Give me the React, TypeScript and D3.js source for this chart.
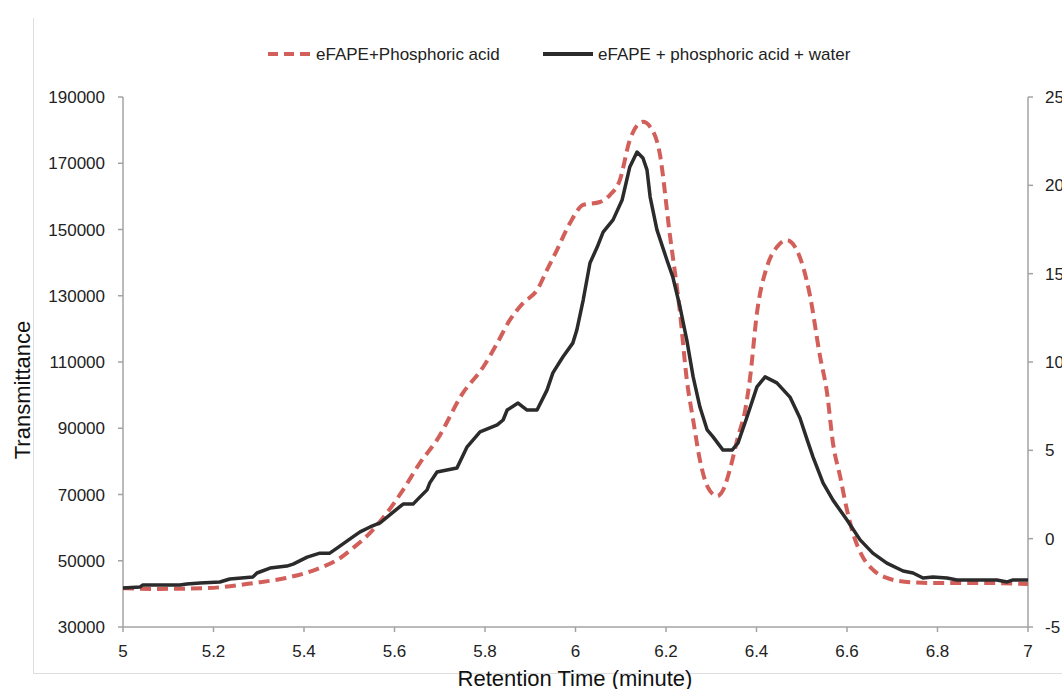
import React from "react";
import * as d3 from "d3";

// ---- Data ----
const redTime = [
  5.0, 5.07, 5.18, 5.29, 5.36, 5.435, 5.473, 5.508, 5.546, 5.583, 5.619, 5.656, 5.694,
  5.751, 5.796, 5.827, 5.855, 5.884, 5.915, 5.937, 5.959, 5.988, 6.017, 6.054, 6.076,
  6.098, 6.12, 6.149, 6.165, 6.186, 6.208, 6.231, 6.246, 6.26, 6.275, 6.292, 6.313,
  6.326, 6.341, 6.359, 6.375, 6.386, 6.401, 6.423, 6.445, 6.467, 6.489, 6.518, 6.54,
  6.556, 6.569, 6.585, 6.6, 6.613, 6.635, 6.658, 6.688, 6.733, 6.783, 6.894, 7.0,
];
const redValues = [
  41700, 41500, 41700, 43300, 44800, 47800, 50200, 53800, 58400, 64400, 71400, 79500, 86500,
  100600, 108500, 115700, 122700, 127800, 131700, 137800, 143800, 152000, 157400, 158300, 160400,
  164900, 177000, 182500, 181000, 173100, 149000, 124800, 104600, 92500, 80400, 72300, 69500,
  71300, 77400, 87400, 95500, 105500, 124800, 138700, 144700, 146800, 143800, 130200, 112000,
  100600, 85500, 75300, 65300, 58400, 51100, 47200, 44800, 43600, 43300, 43300, 43000,
];

const blackTime = [
  5.0, 5.038, 5.044, 5.126, 5.141, 5.17, 5.214, 5.236, 5.287, 5.296, 5.325, 5.362, 5.376,
  5.407, 5.435, 5.457, 5.473, 5.508, 5.524, 5.546, 5.568, 5.597, 5.619, 5.641, 5.656,
  5.672, 5.678, 5.694, 5.738, 5.76, 5.789, 5.827, 5.84, 5.849, 5.873, 5.893, 5.915,
  5.937, 5.95, 5.972, 5.994, 6.003, 6.017, 6.032, 6.048, 6.061, 6.083, 6.103, 6.12,
  6.136, 6.149, 6.158, 6.165, 6.18, 6.202, 6.215, 6.231, 6.246, 6.26, 6.275, 6.291,
  6.304, 6.326, 6.346, 6.359, 6.379, 6.401, 6.419, 6.445, 6.474, 6.496, 6.512, 6.525,
  6.547, 6.569, 6.6, 6.629, 6.657, 6.688, 6.724, 6.746, 6.768, 6.79, 6.821, 6.843,
  6.931, 6.954, 6.967, 7.0,
];
const blackValues = [
  41800, 42100, 42700, 42700, 43000, 43300, 43600, 44500, 45100, 46300, 47800, 48400, 49000,
  51100, 52300, 52300, 53800, 57200, 58700, 60200, 61400, 64700, 67100, 67100, 69200,
  71400, 73500, 76800, 78000, 84300, 88900, 91000, 92500, 95500, 97600, 95500, 95500,
  101500, 106700, 111500, 115700, 119700, 128700, 139900, 144700, 149200, 152900, 158900, 168900,
  173400, 171600, 168000, 159800, 149900, 140800, 135700, 126600, 116600, 105500, 96400, 89500,
  87400, 83400, 83400, 85500, 93400, 102500, 105500, 103700, 99400, 93100, 86500, 81300,
  73500, 68300, 62300, 56300, 52300, 49300, 46900, 46300, 44800, 45100, 44800, 44200,
  44200, 43600, 44200, 44200,
];

const xTicks = [5, 5.2, 5.4, 5.6, 5.8, 6, 6.2, 6.4, 6.6, 6.8, 7];
const yTicks = [30000, 50000, 70000, 90000, 110000, 130000, 150000, 170000, 190000];
const y2Ticks = [-5, 0, 5, 10, 15, 20, 25];

const seriesNames = ["eFAPE+Phosphoric acid", "eFAPE + phosphoric acid + water"];

// ---- Layout ----
const W = 1062;
const H = 689;
const left = 123;
const right = 1028;
const top = 97;
const bottom = 627;
const FONT = "'Liberation Sans', Arial, sans-serif";
const AXIS = "#a3a3a3";
const RED = "#d25f5a";
const BLACK = "#2b2b2b";

export default function App() {
  const x = d3.scaleLinear().domain([5, 7]).range([left, right]);
  const y = d3.scaleLinear().domain([30000, 190000]).range([bottom, top]);
  const y2 = d3.scaleLinear().domain([-5, 25]).range([bottom, top]);

  const redPts = redTime.map((t, i) => [t, redValues[i]] as [number, number]);
  const blackPts = blackTime.map((t, i) => [t, blackValues[i]] as [number, number]);

  const redLine = d3
    .line<[number, number]>()
    .x((d) => x(d[0]))
    .y((d) => y(d[1]))
    .curve(d3.curveMonotoneX);
  const blackLine = d3
    .line<[number, number]>()
    .x((d) => x(d[0]))
    .y((d) => y(d[1]))
    .curve(d3.curveLinear);

  return (
    <svg
      width={W}
      height={H}
      style={{ position: "absolute", left: 0, top: 0, background: "#fff" }}
      fontFamily={FONT}
    >
      {/* chart frame */}
      <line x1={33.5} y1={18} x2={33.5} y2={673.5} stroke="#dedede" strokeWidth={1} />
      <line x1={33} y1={673.5} x2={W} y2={673.5} stroke="#dedede" strokeWidth={1} />

      {/* legend */}
      <g>
        <line x1={268} x2={310} y1={54} y2={54} stroke={RED} strokeWidth={4} strokeDasharray="10,6" />
        <text x={316} y={60} fontSize={17} fill="#222">{seriesNames[0]}</text>
        <line x1={543} x2={593} y1={54} y2={54} stroke={BLACK} strokeWidth={4} />
        <text x={598} y={60} fontSize={17} fill="#222">{seriesNames[1]}</text>
      </g>

      {/* axes */}
      <line x1={left} x2={left} y1={top} y2={bottom} stroke={AXIS} strokeWidth={1.5} />
      <line x1={right} x2={right} y1={top} y2={bottom} stroke={AXIS} strokeWidth={1.5} />
      <line x1={left} x2={right} y1={bottom} y2={bottom} stroke={AXIS} strokeWidth={1.5} />

      {yTicks.map((v) => (
        <g key={"y" + v}>
          <line x1={left - 5} x2={left} y1={y(v)} y2={y(v)} stroke={AXIS} strokeWidth={1.5} />
          <text x={105} y={y(v) + 6} fontSize={17} textAnchor="end" fill="#222">
            {v}
          </text>
        </g>
      ))}
      {y2Ticks.map((v) => (
        <g key={"y2" + v}>
          <line x1={right} x2={right + 5} y1={y2(v)} y2={y2(v)} stroke={AXIS} strokeWidth={1.5} />
          <text x={1045} y={y2(v) + 6} fontSize={17} fill="#222">
            {v}
          </text>
        </g>
      ))}
      {xTicks.map((v) => (
        <g key={"x" + v}>
          <line x1={x(v)} x2={x(v)} y1={bottom} y2={bottom + 5} stroke={AXIS} strokeWidth={1.5} />
          <text x={x(v)} y={657} fontSize={17} textAnchor="middle" fill="#222">
            {v}
          </text>
        </g>
      ))}

      {/* axis titles */}
      <text x={575} y={686} fontSize={22} textAnchor="middle" fill="#111">
        Retention Time (minute)
      </text>
      <text transform="translate(30,390) rotate(-90)" fontSize={22} textAnchor="middle" fill="#111">
        Transmittance
      </text>

      {/* series */}
      <path d={redLine(redPts) || ""} fill="none" stroke={RED} strokeWidth={4} strokeDasharray="11,6" />
      <path d={blackLine(blackPts) || ""} fill="none" stroke={BLACK} strokeWidth={3.5} strokeLinejoin="round" />
    </svg>
  );
}
